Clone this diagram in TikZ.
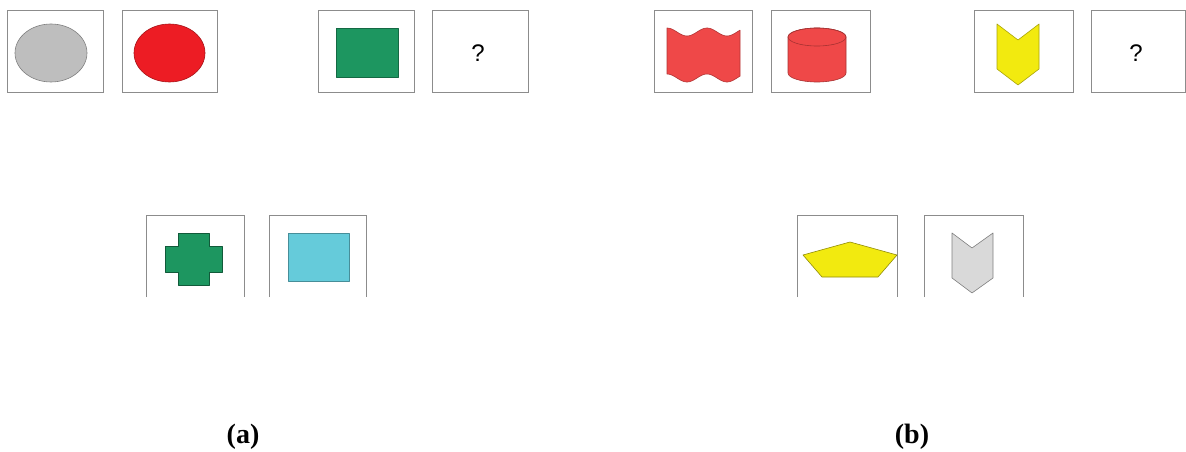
\documentclass[tikz,border=0pt]{standalone}
\usepackage{fontspec}
\setmainfont{Liberation Serif}
\newfontfamily\qfont{Liberation Sans}
\definecolor{boxline}{HTML}{8C8C8C}
\definecolor{ellgray}{HTML}{BEBEBE}
\definecolor{ellred}{HTML}{ED1C24}
\definecolor{rgreen}{HTML}{1D9660}
\definecolor{rcyan}{HTML}{65CBDA}
\definecolor{wred}{HTML}{EF4848}
\definecolor{ryellow}{HTML}{F2EA0F}
\definecolor{cgray}{HTML}{D9D9D9}
\tikzset{
  cell/.style={draw=boxline, line width=0.9pt, minimum width=96pt, minimum height=82pt, inner sep=0pt},
  qmark/.style={font=\qfont\fontsize{24}{26}\selectfont, inner sep=0pt},
  opencell/.style={minimum width=97pt, minimum height=81pt, inner sep=0pt},
  shp/.style={line width=0.6pt, line join=round},
  lbl/.style={font=\bfseries\fontsize{28}{30}\selectfont}
}
\begin{document}
\begin{tikzpicture}[x=1pt,y=-1pt]
\useasboundingbox (0,0) rectangle (1186,452);
% ---------- (a) top row
\node[cell] (a1) at (55,51) {};
\node[cell, minimum width=95pt] (a2) at (169.5,51) {};
\node[cell] (a3) at (366,51) {};
\node[cell] (a4) at (480,51) {};
\node[qmark] (q1) at (478,53) {?};
\draw[shp, fill=ellgray, draw=gray] (51,53) ellipse [x radius=36, y radius=29];
\draw[shp, fill=ellred, draw=ellred!70!black] (169.5,53) ellipse [x radius=35.5, y radius=29];
\draw[shp, fill=rgreen, draw=rgreen!70!black] (336,28) rectangle (398,77);
% ---------- (a) bottom row
\node[opencell] (a5) at (195.5,256.5) {};
\node[opencell, minimum width=96pt] (a6) at (318,256.5) {};
\draw[boxline, line width=0.9pt] (a5.south west) -- (a5.north west) -- (a5.north east) -- (a5.south east);
\draw[boxline, line width=0.9pt] (a6.south west) -- (a6.north west) -- (a6.north east) -- (a6.south east);
\draw[shp, fill=rgreen, draw=rgreen!60!black] (178,233) -- (209,233) -- (209,246) -- (222,246) -- (222,272) -- (209,272) -- (209,285) -- (178,285) -- (178,272) -- (165,272) -- (165,246) -- (178,246) -- cycle;
\draw[shp, fill=rcyan, draw=rcyan!70!black] (288,233) rectangle (349,281);
% ---------- (b) top row
\node[cell, minimum width=98pt] (b1) at (703,51) {};
\node[cell, minimum width=99pt] (b2) at (820.5,51) {};
\node[cell, minimum width=99pt] (b3) at (1023.5,51) {};
\node[cell, minimum width=94pt] (b4) at (1138,51) {};
\node[qmark] (q2) at (1136,53) {?};
% wave flag
\draw[shp, fill=wred, draw=wred!75!black]
  plot[domain=667:740, samples=50, smooth] (\x, {32 - 4*cos((\x-667)*9)})
  -- plot[domain=740:667, samples=50, smooth] (\x, {78 - 4*cos((\x-667)*9)}) -- cycle;
% cylinder
\draw[shp, fill=wred, draw=wred!70!black] (788,37) -- (788,73)
  arc[start angle=180, end angle=0, x radius=29, y radius=9] -- (846,37)
  arc[start angle=0, end angle=-180, x radius=29, y radius=9] -- cycle;
\draw[shp, draw=wred!70!black] (817,37) ellipse [x radius=29, y radius=9];
% yellow chevron
\draw[shp, fill=ryellow, draw=ryellow!70!black] (997,24) -- (1018,40) -- (1039,24) -- (1039,69) -- (1018,85) -- (997,69) -- cycle;
% ---------- (b) bottom row
\node[opencell, minimum width=99pt] (b5) at (847.5,256.5) {};
\node[opencell, minimum width=98pt] (b6) at (974,256.5) {};
\draw[boxline, line width=0.9pt] (b5.south west) -- (b5.north west) -- (b5.north east) -- (b5.south east);
\draw[boxline, line width=0.9pt] (b6.south west) -- (b6.north west) -- (b6.north east) -- (b6.south east);
\draw[shp, fill=ryellow, draw=ryellow!60!black] (803,255) -- (850,242) -- (897,255) -- (878,277) -- (822,277) -- cycle;
\draw[shp, fill=cgray, draw=gray] (952,233) -- (972,248) -- (993,233) -- (993,278) -- (972,293) -- (952,278) -- cycle;
% ---------- labels
\node[lbl] (la) at (243,437) {(a)};
\node[lbl] (lb) at (912,437) {(b)};
\end{tikzpicture}
\end{document}
